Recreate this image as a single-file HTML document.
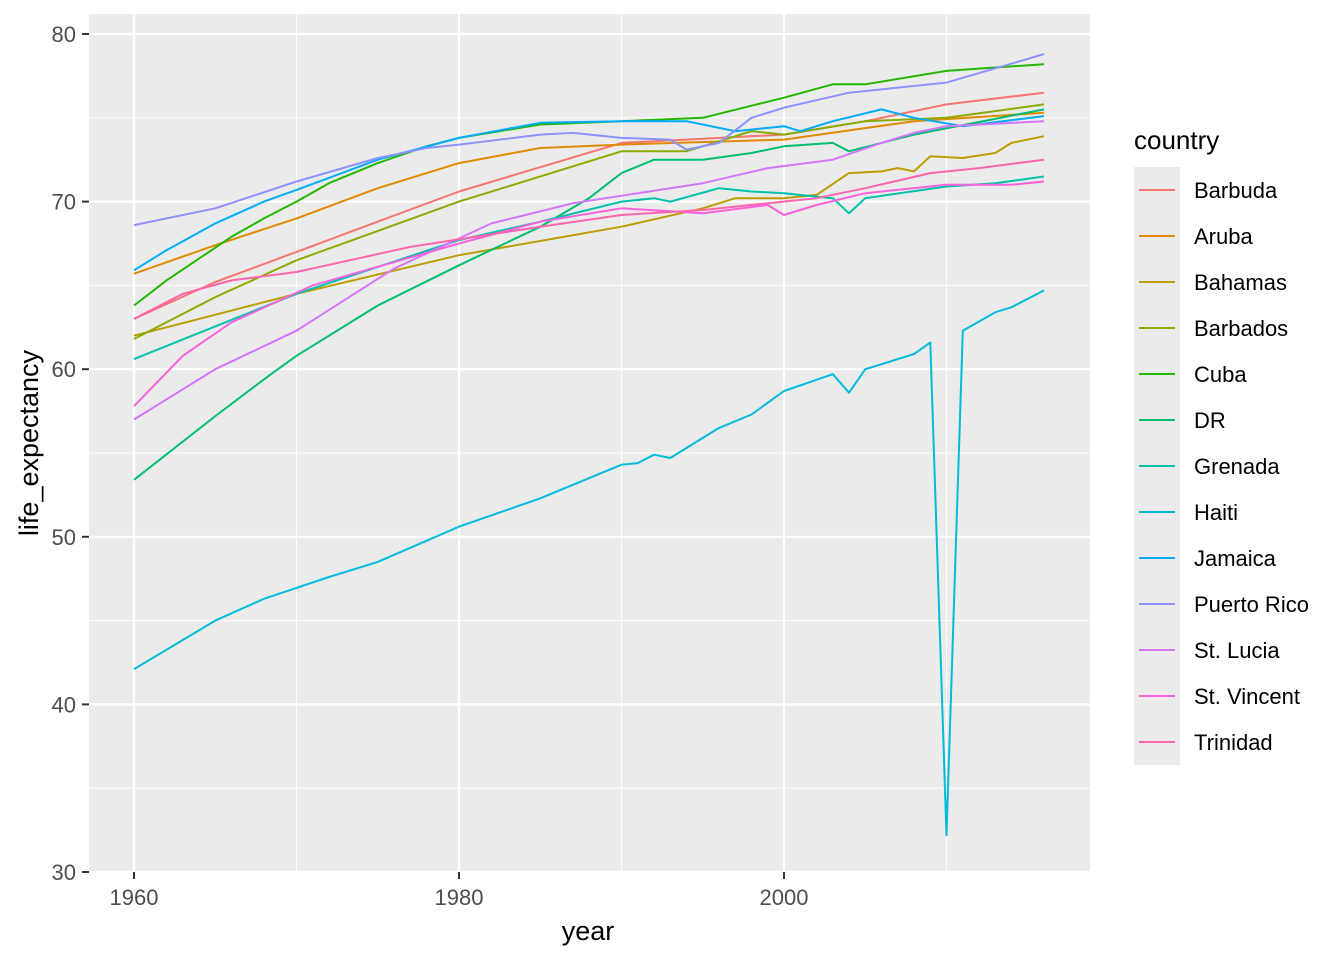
<!DOCTYPE html>
<html><head><meta charset="utf-8"><style>
html,body{margin:0;padding:0;background:#fff}
svg{display:block;font-family:"Liberation Sans",Arial,sans-serif}
</style></head><body>
<svg id="s" width="1344" height="960" xmlns="http://www.w3.org/2000/svg"></svg>
<script>
const X=y=>134+(y-1960)*16.25, Y=v=>872-(v-30)*16.76;
const S=[
["Barbuda","#F8766D",[[1960,63],[1965,65.2],[1970,67],[1980,70.6],[1990,73.5],[2000,74],[2005,74.8],[2010,75.8],[2016,76.5]]],
["Aruba","#E18A00",[[1960,65.7],[1965,67.4],[1970,69],[1975,70.8],[1980,72.3],[1985,73.2],[1990,73.4],[2000,73.7],[2008,74.8],[2016,75.3]]],
["Bahamas","#BE9C00",[[1960,62],[1970,64.5],[1980,66.8],[1990,68.5],[1995,69.6],[1997,70.2],[2000,70.2],[2002,70.4],[2004,71.7],[2006,71.8],[2007,72],[2008,71.8],[2009,72.7],[2011,72.6],[2013,72.9],[2014,73.5],[2016,73.9]]],
["Barbados","#8CAB00",[[1960,61.8],[1965,64.3],[1970,66.5],[1980,70],[1990,73],[1994,73],[1998,74.2],[2000,74],[2005,74.8],[2010,75],[2016,75.8]]],
["Cuba","#24B700",[[1960,63.8],[1962,65.3],[1964,66.6],[1966,67.9],[1968,69],[1970,70],[1972,71.1],[1975,72.3],[1978,73.3],[1980,73.8],[1985,74.6],[1990,74.8],[1995,75],[2000,76.2],[2003,77],[2005,77],[2010,77.8],[2016,78.2]]],
["DR","#00BE70",[[1960,53.4],[1965,57.2],[1968,59.4],[1970,60.8],[1975,63.8],[1980,66.2],[1985,68.5],[1988,70.2],[1990,71.7],[1992,72.5],[1995,72.5],[1998,72.9],[2000,73.3],[2003,73.5],[2004,73],[2008,74],[2016,75.5]]],
["Grenada","#00C1AB",[[1960,60.6],[1970,64.5],[1980,67.7],[1985,68.8],[1990,70],[1992,70.2],[1993,70],[1996,70.8],[1998,70.6],[2000,70.5],[2002,70.3],[2003,70.2],[2004,69.3],[2005,70.2],[2010,70.9],[2013,71.1],[2016,71.5]]],
["Haiti","#00BBDA",[[1960,42.1],[1965,45],[1968,46.3],[1972,47.6],[1975,48.5],[1980,50.6],[1985,52.3],[1990,54.3],[1991,54.4],[1992,54.9],[1993,54.7],[1996,56.5],[1998,57.3],[2000,58.7],[2003,59.7],[2004,58.6],[2005,60],[2008,60.9],[2009,61.6],[2010,32.2],[2011,62.3],[2013,63.4],[2014,63.7],[2016,64.7]]],
["Jamaica","#00ACFC",[[1960,65.9],[1962,67.1],[1965,68.7],[1968,70],[1970,70.7],[1975,72.5],[1980,73.8],[1985,74.7],[1990,74.8],[1994,74.8],[1997,74.2],[2000,74.5],[2001,74.2],[2003,74.8],[2006,75.5],[2008,75],[2011,74.5],[2016,75.1]]],
["Puerto Rico","#8B93FF",[[1960,68.6],[1965,69.6],[1970,71.2],[1975,72.6],[1978,73.2],[1980,73.4],[1985,74],[1987,74.1],[1990,73.8],[1993,73.7],[1994,73.1],[1996,73.5],[1998,75],[2000,75.6],[2004,76.5],[2010,77.1],[2016,78.8]]],
["St. Lucia","#D575FE",[[1960,57],[1965,60],[1970,62.3],[1976,66],[1982,68.7],[1987,69.9],[1991,70.5],[1995,71.1],[1999,72],[2003,72.5],[2006,73.5],[2008,74.1],[2010,74.5],[2016,74.8]]],
["St. Vincent","#F962DD",[[1960,57.8],[1963,60.8],[1966,62.8],[1971,65],[1980,67.5],[1985,68.8],[1990,69.6],[1995,69.3],[1999,69.8],[2000,69.2],[2002,69.8],[2005,70.5],[2010,71],[2014,71],[2016,71.2]]],
["Trinidad","#FF65AC",[[1960,63],[1963,64.5],[1966,65.3],[1970,65.8],[1977,67.3],[1985,68.5],[1990,69.2],[1995,69.5],[2002,70.2],[2005,70.8],[2009,71.7],[2012,72],[2016,72.5]]]
];
let h='<rect x="89" y="14" width="1001" height="858" fill="#EBEBEB"/>';
for(let v=35;v<=75;v+=10)h+=`<line x1="89" x2="1090" y1="${Y(v)}" y2="${Y(v)}" stroke="#fff" stroke-width="1"/>`;
for(let y of [1970,1990,2010])h+=`<line y1="14" y2="872" x1="${X(y)}" x2="${X(y)}" stroke="#fff" stroke-width="1"/>`;
for(let v=30;v<=80;v+=10){h+=`<line x1="89" x2="1090" y1="${Y(v)}" y2="${Y(v)}" stroke="#fff" stroke-width="2.2"/><line x1="82" x2="89" y1="${Y(v)}" y2="${Y(v)}" stroke="#333" stroke-width="2"/><text x="76" y="${Y(v)+8}" font-size="22" fill="#4D4D4D" text-anchor="end">${v}</text>`;}
for(let y of [1960,1980,2000]){h+=`<line y1="14" y2="872" x1="${X(y)}" x2="${X(y)}" stroke="#fff" stroke-width="2.2"/><line y1="872" y2="879" x1="${X(y)}" x2="${X(y)}" stroke="#333" stroke-width="2"/><text x="${X(y)}" y="905" font-size="22" fill="#4D4D4D" text-anchor="middle">${y}</text>`;}
S.forEach(s=>{h+=`<polyline fill="none" stroke="${s[1]}" stroke-width="2" stroke-linejoin="round" points="${s[2].map(p=>X(p[0]).toFixed(1)+','+Y(p[1]).toFixed(1)).join(' ')}"/>`;});
h+='<text x="588" y="940" font-size="27" text-anchor="middle">year</text>';
h+='<text transform="translate(38,443) rotate(-90)" font-size="27" text-anchor="middle">life_expectancy</text>';
h+='<text x="1134" y="149" font-size="26">country</text>';
h+='<rect x="1134" y="167" width="46" height="598" fill="#EBEBEB"/>';
S.forEach((s,i)=>{const yy=190+i*46;h+=`<line x1="1139" x2="1175" y1="${yy}" y2="${yy}" stroke="${s[1]}" stroke-width="2"/><text x="1194" y="${yy+8}" font-size="22">${s[0]}</text>`;});
document.getElementById('s').innerHTML=h;
</script>
</body></html>
